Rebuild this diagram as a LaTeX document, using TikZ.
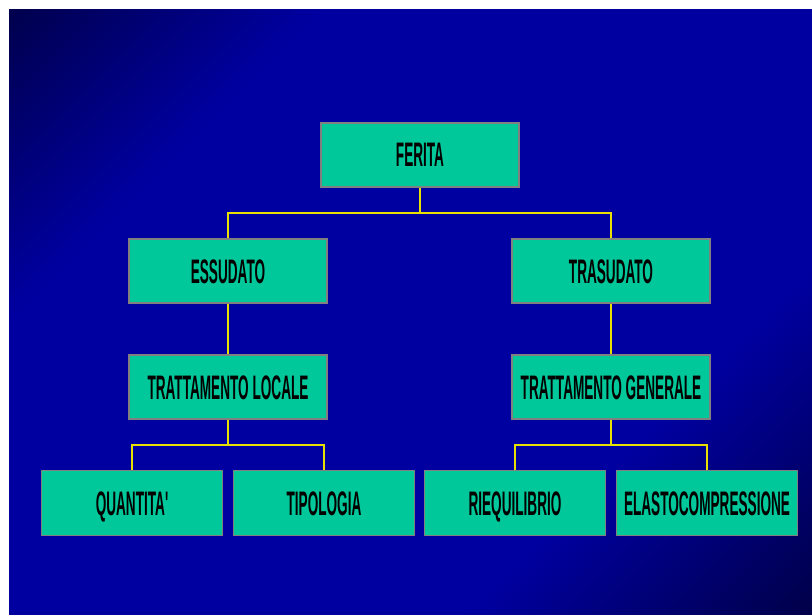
\documentclass[tikz,border=0pt]{standalone}
\usepackage{fontspec}
\usepackage{xcolor}
\newfontfamily\boxfont{Liberation Sans}[FakeStretch=0.40]
\definecolor{bgblue}{HTML}{0000A0}
\definecolor{boxgreen}{HTML}{00C89B}
\definecolor{boxgray}{HTML}{808080}
\definecolor{linkyellow}{HTML}{E8E000}
\pgfdeclarehorizontalshading{bgdiag}{100bp}{color(0bp)=(black); color(30bp)=(bgblue); color(68bp)=(bgblue); color(100bp)=(black)}

\begin{document}
\begin{tikzpicture}[x=1pt, y=-1pt,
    box/.style={draw=boxgray, line width=1.3pt, fill=boxgreen, inner sep=0pt,
      minimum width=198pt, minimum height=64pt, text height=24pt, text depth=0pt,
      font=\boxfont\bfseries\fontsize{34}{36}\selectfont},
    leaf/.style={box, minimum width=181pt, minimum height=65pt},
    link/.style={linkyellow, line width=1.4pt}]
  \useasboundingbox (0,0) rectangle (812,615);
  \fill[white] (0,0) rectangle (812,615);
  \shade[shading=bgdiag, shading angle=-45] (9,10) rectangle (812,615);
  % tree
  \node[box] (ferita) at (420,155) {FERITA};
  \node[box] (essudato) at (228,271) {ESSUDATO};
  \node[box] (trasudato) at (611,271) {TRASUDATO};
  \node[box] (locale) at (228,387) {TRATTAMENTO LOCALE};
  \node[box] (generale) at (611,387) {TRATTAMENTO GENERALE};
  \node[leaf] (quantita) at (132,503) {QUANTITA'};
  \node[leaf] (tipologia) at (324,503) {TIPOLOGIA};
  \node[leaf] (riequilibrio) at (515,503) {RIEQUILIBRIO};
  \node[leaf] (elasto) at (707,503) {ELASTOCOMPRESSIONE};
  \coordinate (forktop) at (420,213);
  \coordinate (forkleft) at (228,445);
  \coordinate (forkright) at (611,445);
  \draw[link] (ferita) -- (forktop);
  \draw[link] (essudato) |- (forktop) -| (trasudato);
  \draw[link] (essudato) -- (locale);
  \draw[link] (trasudato) -- (generale);
  \draw[link] (locale) -- (forkleft);
  \draw[link] (quantita) |- (forkleft) -| (tipologia);
  \draw[link] (generale) -- (forkright);
  \draw[link] (riequilibrio) |- (forkright) -| (elasto);
\end{tikzpicture}
\end{document}
